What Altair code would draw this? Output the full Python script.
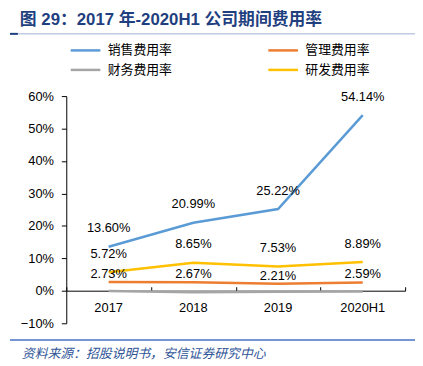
import altair as alt
import pandas as pd

years = ["2017", "2018", "2019", "2020H1"]
series = ["销售费用率", "管理费用率", "财务费用率", "研发费用率"]
colors = ["#5B9BD5", "#ED7D31", "#A5A5A5", "#FFC000"]
sales = [13.60, 20.99, 25.22, 54.14]
admin = [2.73, 2.67, 2.21, 2.59]
finance = [-0.05, -0.45, -0.30, -0.20]
rnd = [5.72, 8.65, 7.53, 8.89]
yticks = [-0.1, 0.0, 0.1, 0.2, 0.3, 0.4, 0.5, 0.6]
title_text = "图 29：2017 年-2020H1 公司期间费用率"
source_text = "资料来源：招股说明书，安信证券研究中心"

rows = []
for name, vals in zip(series, [sales, admin, finance, rnd]):
    for yr, v in zip(years, vals):
        rows.append({"year": yr, "series": name, "value": v / 100, "label": f"{v:.2f}%"})
df = pd.DataFrame(rows)
one = pd.DataFrame({"t": [title_text], "s": [source_text]})

W, H = 343, 230
xscale = alt.Scale(type="band", domain=years, paddingInner=0, paddingOuter=0)
yscale = alt.Scale(domain=[-0.1, 0.6], nice=False, zero=False)
FONT = "Liberation Sans"
CJK = "Noto Sans CJK SC"

yaxis = alt.Axis(values=yticks, format=".0%", grid=False, title=None,
                 domainColor="black", tickColor="black", tickSize=5,
                 labelPadding=8, labelFontSize=13, labelFont=FONT,
                 labelColor="black", labelOverlap=False)

color = alt.Color(
    "series:N",
    scale=alt.Scale(domain=series, range=colors),
    legend=alt.Legend(
        orient="none", legendX=8, legendY=-58, columns=2, direction="horizontal",
        title=None,
        symbolType="M-1.5,0H1.5", symbolSize=400, symbolStrokeWidth=2.5,
        labelFont=CJK, labelFontSize=13, labelColor="black", labelOffset=11,
        columnPadding=91, rowPadding=1,
    ),
)

lines = alt.Chart(df).mark_line(strokeWidth=2.5).encode(
    x=alt.X("year:N", scale=xscale, bandPosition=0.5, sort=years,
            axis=alt.Axis(orient="bottom", offset=-33, domain=False, ticks=False,
                          labelPadding=11, labelFontSize=13, labelFont=FONT,
                          labelColor="black", labelAngle=0, title=None)),
    y=alt.Y("value:Q", scale=yscale, axis=yaxis),
    color=color,
)

top_labels = alt.Chart(df).transform_filter(
    alt.FieldOneOfPredicate(field="series", oneOf=["销售费用率", "研发费用率"])
).mark_text(dy=-18.5, fontSize=13, font=FONT, color="black").encode(
    x=alt.X("year:N", scale=xscale, bandPosition=0.5, sort=years,
            axis=alt.Axis(orient="top", offset=-197, domain=True, domainColor="black",
                          ticks=True, tickColor="black", tickSize=4, tickBand="extent",
                          labels=False, title=None)),
    y=alt.Y("value:Q", scale=yscale, axis=yaxis),
    text="label:N",
)

low_labels = alt.Chart(df).transform_filter(
    alt.FieldEqualPredicate(field="series", equal="管理费用率")
).mark_text(dy=-8, fontSize=13, font=FONT, color="black").encode(
    x=alt.X("year:N", scale=xscale, bandPosition=0.5, sort=years, axis=None),
    y=alt.Y("value:Q", scale=yscale, axis=yaxis),
    text="label:N",
)

title = alt.Chart(one).mark_text(
    align="left", baseline="middle", fontSize=17, fontWeight="bold",
    color="#1F3F7F", font="Liberation Sans, Noto Sans CJK SC"
).encode(x=alt.value(-47), y=alt.value(-76.5), text="t:N")

title_rule = alt.Chart(one).mark_rule(color="#9DB0D0", strokeWidth=1).encode(
    x=alt.value(-57), x2=alt.value(353), y=alt.value(-63))
title_mark = alt.Chart(one).mark_rule(color="#1F3F7F", strokeWidth=2).encode(
    x=alt.value(-57), x2=alt.value(-49), y=alt.value(-63))

foot_rule = alt.Chart(one).mark_rule(color="#4472C4", strokeWidth=1.5).encode(
    x=alt.value(-57), x2=alt.value(353), y=alt.value(247))
foot = alt.Chart(one).mark_text(
    align="left", baseline="middle", fontSize=13, fontStyle="italic",
    color="#2F5597", font=CJK
).encode(x=alt.value(-45), y=alt.value(261), text="s:N")

chart = alt.layer(
    lines, top_labels, low_labels, title, title_rule, title_mark, foot_rule, foot
).resolve_axis(x="independent").properties(
    width=W, height=H,
    autosize=alt.AutoSizeParams(type="none"),
    padding={"left": 59, "top": 87, "right": 10, "bottom": 37},
).configure_view(stroke=None)

chart.save("out.html", embed_options={"renderer": "svg", "actions": False})
